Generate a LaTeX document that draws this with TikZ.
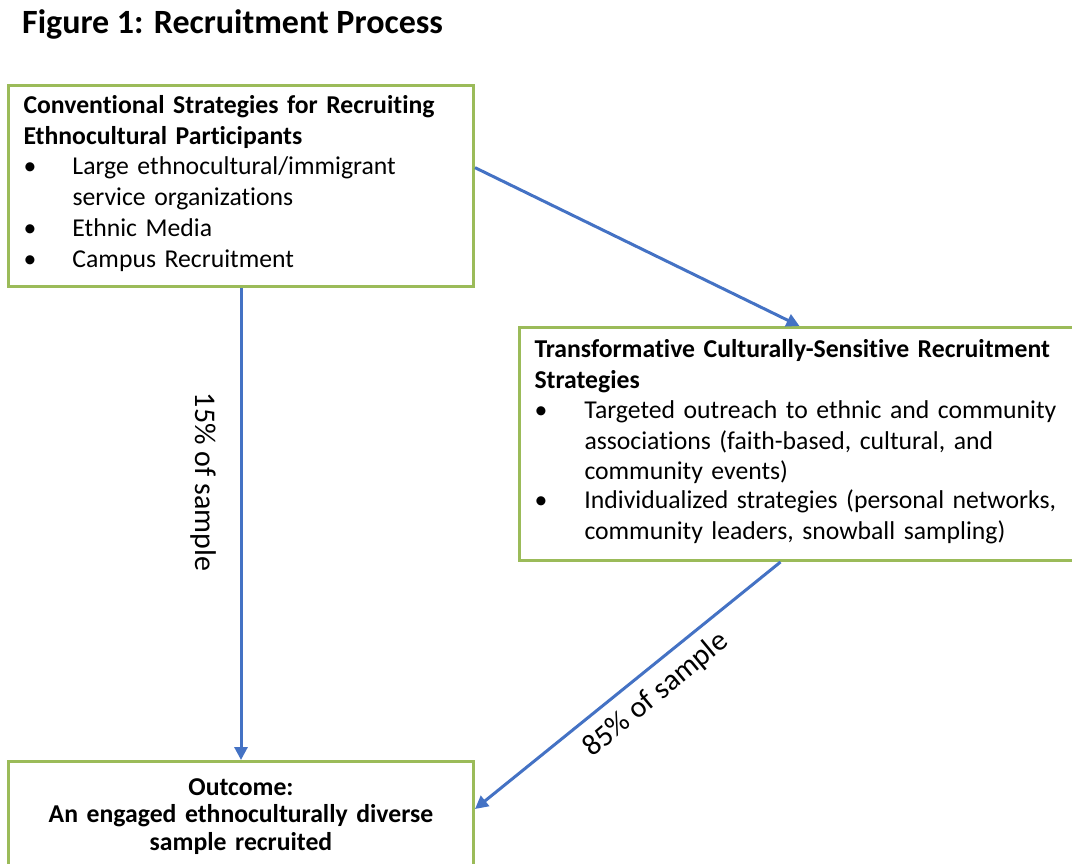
\documentclass[tikz,border=0pt]{standalone}
\usepackage{fontspec}
\setmainfont{Carlito}[Ligatures=NoCommon]
\usetikzlibrary{arrows.meta,calc}
\definecolor{boxgreen}{HTML}{9BBB59}
\definecolor{flowblue}{HTML}{4472C4}
% one bullet entry: bullet, then a hanging block of text
\newcommand{\bulletline}[3][49pt]{\par\noindent\makebox[#1][l]{\textbullet}%
  \parbox[t]{#2}{\raggedright #3\strut}}
\begin{document}
\begin{tikzpicture}[x=1pt,y=-1pt,
  stagebox/.style={draw=boxgreen, line width=3pt, rectangle, anchor=north west,
    inner xsep=15pt, inner ysep=8pt, align=left,
    font=\fontsize{25.7}{30.5}\selectfont},
  flow/.style={draw=flowblue, line width=3pt,
    -{Triangle[length=13pt,width=13pt]}},
  flowlabel/.style={font=\fontsize{30}{34}\selectfont, inner sep=0pt}]
  \useasboundingbox (0,0) rectangle (1072,864);

  % heading
  \node[anchor=base west, inner sep=0pt, font=\fontsize{34}{40}\selectfont\bfseries]
    (title) at (22,34) {Figure 1: Recruitment Process};

  % conventional strategies
  \node[stagebox, minimum width=465pt, minimum height=201pt, text width=435pt]
    (conv) at (7,84) {%
    \textbf{Conventional Strategies for Recruiting}\\
    \textbf{Ethnocultural Participants}
    \bulletline{386pt}{Large ethnocultural/immigrant\\service organizations}
    \bulletline{386pt}{Ethnic Media}
    \bulletline{386pt}{Campus Recruitment}\par\vspace*{-8pt}};

  % culturally-sensitive strategies
  \node[stagebox, minimum width=551pt, minimum height=233pt, text width=530pt]
    (trans) at (518,326) {%
    \textbf{Transformative Culturally-Sensitive Recruitment}\\
    \textbf{Strategies}
    \bulletline[50pt]{480pt}{Targeted outreach to ethnic and community\\associations (faith-based, cultural, and\\community events)}
    \bulletline[50pt]{480pt}{Individualized strategies (personal networks,\\community leaders, snowball sampling)}\par\vspace*{-6pt}};

  % outcome
  \node[stagebox, align=center, minimum width=465pt, text width=435pt,
    inner ysep=17pt, font=\fontsize{25.7}{27.5}\selectfont\bfseries]
    (out) at (7,760) {Outcome:\\An engaged ethnoculturally diverse\\sample recruited\\ \mbox{}};

  % flows
  \draw[flow] (conv.south) -- (out.north);
  \draw[flow] ($(conv.north east)!0.41!(conv.south east)$) -- (trans.north);
  \draw[flow] ($(trans.south)+(-19,0)$) -- ($(out.north east)+(0,49)$);

  % flow shares
  \node[flowlabel, rotate=-90] (share15) at (203,482) {15\% of sample};
  \node[flowlabel, rotate=39.6] (share85) at (656,695) {85\% of sample};
\end{tikzpicture}
\end{document}
